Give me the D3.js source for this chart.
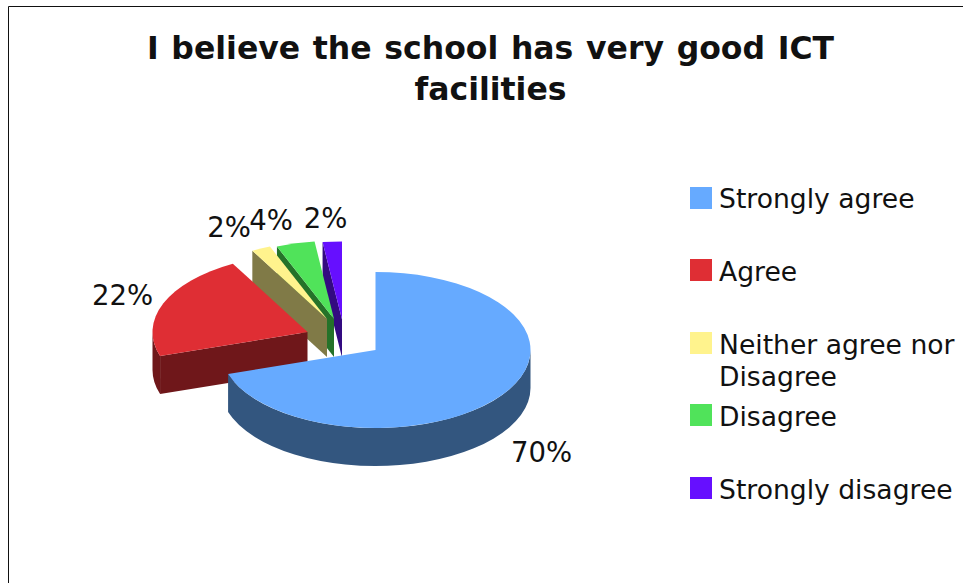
<!DOCTYPE html>
<html>
<head>
<meta charset="utf-8">
<script src="https://cdn.jsdelivr.net/npm/d3@7/dist/d3.min.js"></script>
<style>
html,body{margin:0;padding:0;background:#fff;}
svg{display:block;}
text{font-family:"DejaVu Sans",Verdana,sans-serif;fill:#111;}
</style>
</head>
<body>
<script>
// Survey responses, percent of respondents
const categories = ["Strongly agree", "Agree", "Neither agree nor Disagree", "Disagree", "Strongly disagree"];
const values = [70, 22, 2, 4, 2];
const topColors = ["#66aaff", "#df2e34", "#fff38d", "#50e35a", "#660fff"];
const wallColors = ["#33567f", "#6f171a", "#807a47", "#257229", "#330a80"];
const titleLines = ["I believe the school has very good ICT", "facilities"];

// Slice anchors: exploded wedges sit apart from the main wedge
const centers = [[375.5, 350], [307.5, 332], [327, 319], [334, 319], [342, 319.5]];
const labelPos = [[541.5, 462], [122.5, 305], [229, 237], [271, 230], [325.5, 228]];
const legendBaselines = [[208], [281], [354, 386], [426], [499]];
const legendSwatchY = [187, 259, 332, 404, 477];

const rx = 155, ry = 78, depth = 38;
const width = 963, height = 583;

const svg = d3.select("body").append("svg").attr("width", width).attr("height", height);

// Frame: only the top and left rules fall inside the view
svg.append("path").attr("d", `M8.5 ${height}V6.5H${width}`)
  .attr("fill", "none").attr("stroke", "#111").attr("stroke-width", 1);

const title = svg.append("text").attr("text-anchor", "middle")
  .attr("font-weight", "bold").attr("font-size", 31.5)
  .attr("word-spacing", 1.7);
titleLines.forEach((line, i) => {
  title.append("tspan").attr("x", 490.5).attr("y", 59 + i * 41).text(line);
});

const slices = d3.pie().sort(null).value(d => d)(values);

function rimPoint(c, a, dy = 0) {
  return [c[0] + rx * Math.sin(a), c[1] - ry * Math.cos(a) + dy];
}
// Elliptical rim between two angles, sweeping clockwise on screen
function arcTo(ctxParts, a1, dy, c, sweep) {
  const p = rimPoint(c, a1, dy);
  ctxParts.push(`A${rx} ${ry} 0 0 ${sweep} ${p[0]} ${p[1]}`);
}
function topPath(c, a0, a1) {
  const p0 = rimPoint(c, a0), p1 = rimPoint(c, a1);
  const large = a1 - a0 > Math.PI ? 1 : 0;
  return `M${c[0]} ${c[1]}L${p0[0]} ${p0[1]}A${rx} ${ry} 0 ${large} 1 ${p1[0]} ${p1[1]}Z`;
}
function edgeWall(c, a) {
  const p = rimPoint(c, a);
  return `M${c[0]} ${c[1]}L${p[0]} ${p[1]}V${p[1] + depth}L${c[0]} ${c[1] + depth}Z`;
}
function outerWall(c, a0, a1) {
  const from = Math.max(a0, Math.PI / 2), to = Math.min(a1, 3 * Math.PI / 2);
  if (to <= from) return null;
  const p0 = rimPoint(c, from), p1 = rimPoint(c, to);
  const parts = [`M${p0[0]} ${p0[1]}`];
  arcTo(parts, to, 0, c, 1);
  parts.push(`V${p1[1] + depth}`);
  arcTo(parts, from, depth, c, 0);
  parts.push("Z");
  return parts.join("");
}

// Painter's order: far wedges first, the large front wedge last
const order = [4, 3, 2, 1, 0];
const pie = svg.append("g");
order.forEach(i => {
  const s = slices[i], c = centers[i];
  const g = pie.append("g");
  if (Math.sin(s.startAngle) < -1e-6) g.append("path").attr("d", edgeWall(c, s.startAngle)).attr("fill", wallColors[i]);
  if (Math.sin(s.endAngle) > 1e-6) g.append("path").attr("d", edgeWall(c, s.endAngle)).attr("fill", wallColors[i]);
  const outer = outerWall(c, s.startAngle, s.endAngle);
  if (outer) g.append("path").attr("d", outer).attr("fill", wallColors[i]);
  g.append("path").attr("d", topPath(c, s.startAngle, s.endAngle)).attr("fill", topColors[i]);
});

const total = d3.sum(values);
svg.append("g").selectAll("text").data(values).join("text")
  .attr("x", (d, i) => labelPos[i][0])
  .attr("y", (d, i) => labelPos[i][1])
  .attr("text-anchor", "middle")
  .attr("font-size", 27.5)
  .text(d => `${Math.round(d / total * 100)}%`);

// Legend; the long entry breaks onto a second row
const legend = svg.append("g");
const legendLines = [[categories[0]], [categories[1]], ["Neither agree nor", "Disagree"], [categories[3]], [categories[4]]];
categories.forEach((name, i) => {
  legend.append("rect").attr("x", 690).attr("y", legendSwatchY[i])
    .attr("width", 22).attr("height", 22).attr("fill", topColors[i]);
  legendLines[i].forEach((line, j) => {
    legend.append("text").attr("x", 719).attr("y", legendBaselines[i][j])
      .attr("font-size", 26.6).text(line);
  });
});
</script>
</body>
</html>
